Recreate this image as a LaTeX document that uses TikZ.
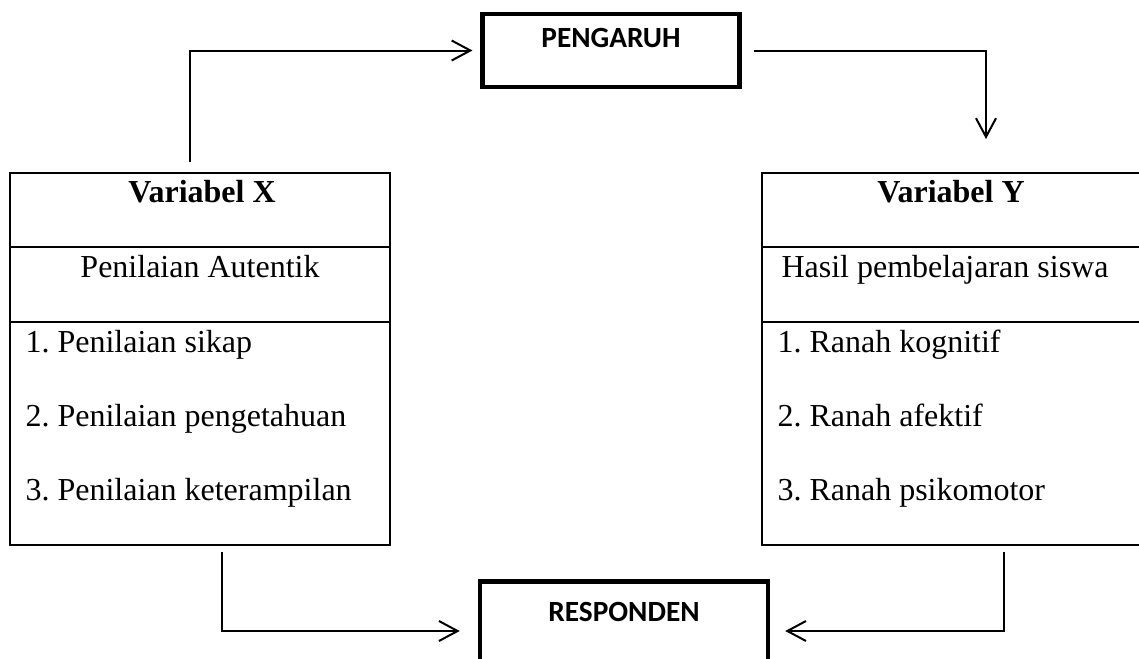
\documentclass[tikz,border=0pt]{standalone}
\usepackage{fontspec}
\setmainfont{Liberation Serif}
\newfontfamily\calibri{Carlito}
\usetikzlibrary{arrows.meta}
\frenchspacing

\begin{document}
\begin{tikzpicture}[
            x=0.375pt, y=-0.375pt,
            every node/.style={font=\fontsize{12}{14}\selectfont, inner sep=0pt},
            varbox/.style={draw, line width=0.75pt, minimum width=142.5pt, minimum height=139.5pt},
            mainbox/.style={draw, line width=1.7pt, font=\calibri\bfseries\fontsize{11}{13}\selectfont, text height=7pt},
            conn/.style={line width=0.75pt, -{Straight Barb[length=7pt, width=7.5pt]}}
        ]
            \useasboundingbox (0,0) rectangle (1139,658);
            \clip (0,0) rectangle (1139,658);

            \node[mainbox, minimum width=96.2pt, minimum height=27.4pt, text depth=9.4pt] (pengaruh) at (611,50.5) {PENGARUH};
            \node[mainbox, minimum width=108pt, minimum height=37.1pt, text depth=14.25pt] (responden) at (624,631) {RESPONDEN};

            \node[varbox] (varx) at (200,359) {};
            \node[varbox] (vary) at (952,359) {};
            \draw[line width=0.75pt] (10,247) -- (390,247) (10,322) -- (390,322);
            \draw[line width=0.75pt] (762,247) -- (1142,247) (762,322) -- (1142,322);

            \node[anchor=base, font=\bfseries\fontsize{12}{14}\selectfont] (titlex) at (202,202) {Variabel X};
            \node[anchor=base] (subx) at (200,277) {Penilaian Autentik};
            \node[anchor=base west] (x1) at (25,352) {1. Penilaian sikap};
            \node[anchor=base west] (x2) at (25,426) {2. Penilaian pengetahuan};
            \node[anchor=base west] (x3) at (25,500) {3. Penilaian keterampilan};

            \node[anchor=base, font=\bfseries\fontsize{12}{14}\selectfont] (titley) at (951,202) {Variabel Y};
            \node[anchor=base] (suby) at (945,277) {Hasil pembelajaran siswa};
            \node[anchor=base west] (y1) at (777,352) {1. Ranah kognitif};
            \node[anchor=base west] (y2) at (777,426) {2. Ranah afektif};
            \node[anchor=base west] (y3) at (777,500) {3. Ranah psikomotor};

            \coordinate (xtop) at (190,162);
            \coordinate (ytop) at (986,139);
            \coordinate (xbot) at (222,552);
            \coordinate (ybot) at (1004,552);
            \draw[conn, shorten >=3pt] (xtop) |- (pengaruh.west);
            \draw[conn, shorten <=4.5pt] (pengaruh.east) -| (ytop);
            \draw[conn, shorten >=6.75pt] (xbot) |- (responden.west);
            \draw[conn, shorten >=5.6pt] (ybot) |- (responden.east);
        \end{tikzpicture}
\end{document}
